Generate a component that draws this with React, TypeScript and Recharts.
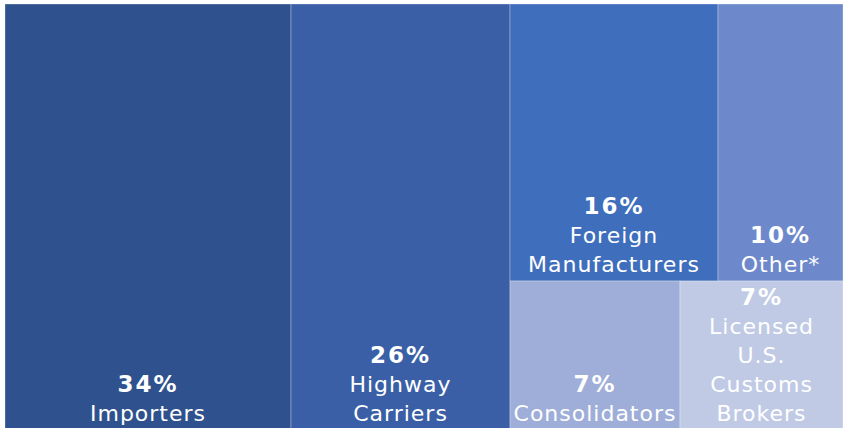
import { Treemap } from "recharts";

// Shares of filings by filer type
const categories = [
  "Importers",
  "Highway Carriers",
  "Foreign Manufacturers",
  "Other*",
  "Consolidators",
  "Licensed U.S. Customs Brokers",
];
// printed labels (rounded) and tile sizes as measured off the chart
const shareLabels = ["34%", "26%", "16%", "10%", "7%", "7%"];
const shares = [34.1, 26.1, 16.1, 9.7, 7.1, 6.8];
const labelLines = [
  ["Importers"],
  ["Highway", "Carriers"],
  ["Foreign", "Manufacturers"],
  ["Other*"],
  ["Consolidators"],
  ["Licensed", "U.S.", "Customs", "Brokers"],
];
const colors = ["#2F528E", "#3A5FA7", "#3F6EBD", "#6D89CB", "#9EAED8", "#C0CAE5"];

const leaf = (i: number) => ({
  name: categories[i],
  value: shares[i],
  pct: shareLabels[i],
  lines: labelLines[i],
  color: colors[i],
});

// nesting keeps the right-hand block split into a top and bottom row
const tree = [
  leaf(0),
  leaf(1),
  {
    name: "rest",
    children: [
      { name: "upper", children: [leaf(2), leaf(3)] },
      { name: "lower", children: [leaf(4), leaf(5)] },
    ],
  },
];

const LINE_H = 29;

function Tile(props: any) {
  const { x, y, width, height, children, color, lines, pct } = props;
  if ((children && children.length) || !lines) return null;
  const cx = x + width / 2;
  const all = [pct, ...lines];
  const lastY = y + height - 17;
  return (
    <g>
      <rect
        x={x}
        y={y}
        width={width}
        height={height}
        fill={color}
        stroke="rgba(255,255,255,0.3)"
        strokeWidth={1}
      />
      {all.map((t: string, k: number) => (
        <text
          key={k}
          x={cx}
          y={lastY - (all.length - 1 - k) * LINE_H}
          textAnchor="middle"
          dominantBaseline="central"
          fill="#ffffff"
          fontFamily="'DejaVu Sans', Verdana, sans-serif"
          fontSize={k === 0 ? 23 : 22}
          fontWeight={k === 0 ? 700 : 400}
          letterSpacing={k === 0 ? 2 : 1}
        >
          {t}
        </text>
      ))}
    </g>
  );
}

export default function App() {
  return (
    <div style={{ position: "absolute", left: 5, top: 4 }}>
      <Treemap
        width={838}
        height={426}
        data={tree}
        dataKey="value"
        aspectRatio={1}
        isAnimationActive={false}
        content={<Tile />}
      />
    </div>
  );
}
